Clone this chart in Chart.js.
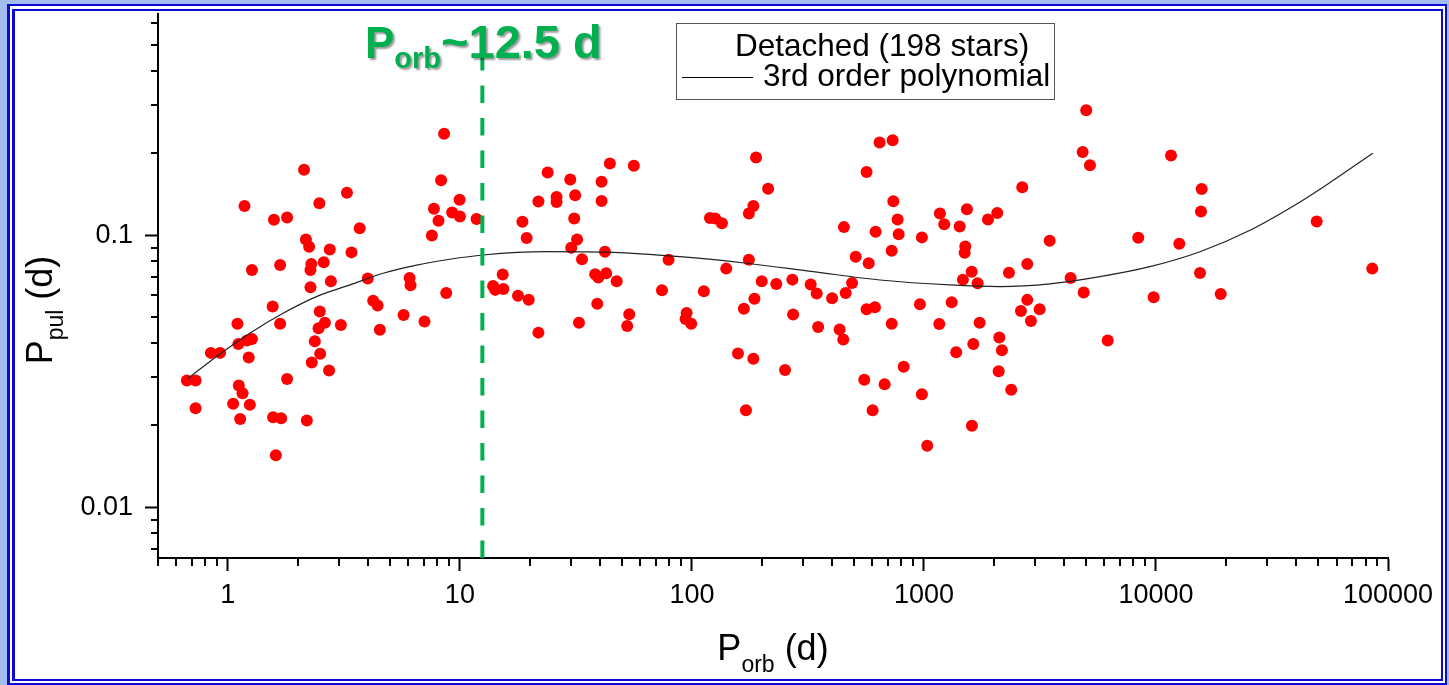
<!DOCTYPE html>
<html><head><meta charset="utf-8">
<script src="https://cdn.jsdelivr.net/npm/chart.js@4.4.1/dist/chart.umd.min.js"></script>
<style>
html,body{margin:0;padding:0;width:1449px;height:685px;overflow:hidden;background:#a4bdf0;}
#frame{position:absolute;left:7px;top:4px;width:1440px;height:681px;box-sizing:border-box;border-style:double;border-color:#0a0ad6;border-width:7px 6px 6px 8px;background:#fff;}
#c{position:absolute;left:0;top:0;}
</style></head><body>
<div id="frame"></div>
<canvas id="c" width="1449" height="685"></canvas>
<script>
// ---- data ----
const orbitalPeriod = [
 8.55,2.13,8.30,3.26,9.97,1.18,2.48,7.73,9.26,10.0,8.09,11.8,1.58,1.80,3.70,7.57,2.17,2.24,2.75,3.41,
 2.59,1.68,2.29,1.27,2.27,2.78,4.01,6.07,6.13,2.27,8.73,1.56,4.23,4.42,2.49,1.10,1.68,2.62,2.46,3.07,
 5.72,7.04,4.52,1.11,1.27,1.21,0.845,0.926,2.37,1.23,2.50,2.30,2.73,1.80,0.666,0.726,1.115,1.157,0.726,1.054,
 1.244,1.13,1.567,1.697,2.19,1.61,
 23.9,29.9,44.3,56.2,40.8,21.8,26.1,26.1,31.4,40.8,18.6,31.1,19.4,32.0,30.2,42.2,33.6,15.3,13.9,14.2,
 15.4,17.8,19.8,38.3,39.5,42.7,47.4,39.1,21.8,32.6,53.7,52.6,79.3,74.3,94.9,93.9,99.3,112.6,119.6,126,
 134.7,189,213,184,176,140.6,176,200,186,167.5,231,271,273,325,345,402,350,433,449,460,
 490,508,578,452,619,566,644,733,738,770,778,726,980,566,615,726,961,158,184,252,
 171,553,677,818,601,980,1033,
 5006,4831,5194,11610,2653,15740,15630,49280,
 1172,1223,1532,1426,1888,2070,3482,1507,1498,8388,12600,2788,2325,1606,1472,1704,4288,15480,85560,4880,
 9772,19010,1317,2788,2618,3153,2891,1164,1738,2112,2168,1632,1377,2099,2378,6194,1610
];
const pulsationPeriod = [
 0.236,0.174,0.159,0.143,0.135,0.128,0.131,0.125,0.121,0.117,0.113,0.1145,0.114,0.116,0.106,0.0997,0.0964,0.0906,0.0886,0.0864,
 0.0794,0.0776,0.0783,0.0744,0.0744,0.0677,0.0692,0.0696,0.0654,0.0643,0.0612,0.0546,0.0574,0.0551,0.0524,0.0472,0.0472,0.0476,0.0455,0.0467,
 0.0508,0.0481,0.0449,0.0398,0.0415,0.0410,0.0369,0.0369,0.0407,0.0355,0.0366,0.0340,0.0318,0.0296,0.0292,0.0292,0.0280,0.0262,0.0231,0.0240,
 0.0238,0.0211,0.0214,0.0212,0.0208,0.0155,
 0.170,0.160,0.1835,0.180,0.157,0.133,0.138,0.1324,0.140,0.1335,0.112,0.115,0.0975,0.0964,0.0898,0.0869,0.0815,0.0716,0.0650,0.0629,
 0.0634,0.0599,0.0579,0.0718,0.0698,0.0724,0.0677,0.0559,0.0438,0.0476,0.0512,0.0463,0.0812,0.0627,0.0517,0.0492,0.0472,0.0622,0.1157,0.1151,
 0.1106,0.193,0.148,0.128,0.120,0.0753,0.0812,0.0677,0.0584,0.0536,0.0661,0.0686,0.0511,0.0658,0.0610,0.0586,0.0459,0.0450,0.0413,0.0612,
 0.0667,0.0833,0.0788,0.107,0.1028,0.1706,0.219,0.2234,0.1332,0.1142,0.1008,0.0876,0.0981,0.0534,0.0543,0.0472,0.0557,0.0367,0.0351,0.0319,
 0.0227,0.0294,0.0283,0.0328,0.0227,0.0260,0.0168,
 0.288,0.202,0.1805,0.1963,0.150,0.1478,0.1221,0.1122,
 0.120,0.1097,0.1245,0.1076,0.1142,0.1207,0.0953,0.0909,0.0861,0.0977,0.0929,0.0783,0.0727,0.0734,0.0686,0.0665,0.0696,0.0726,0.0753,0.0615,
 0.0591,0.0608,0.0567,0.0578,0.0526,0.0534,0.0483,0.0471,0.0476,0.0420,0.0377,0.0398,0.0371,0.0316,0.0270,0.0410,0.0199
];
const fitOrbitalPeriod = [0.673,0.894,1.244,1.73,2.41,3.36,4.67,6.51,9.05,12.6,23.6,45.7,88.7,172,333,646,1294,2128,3493,5737,9420,15480,25420,41770,58100,85950];
const fitPulsationPeriod = [0.0297,0.0358,0.0436,0.0516,0.0594,0.0656,0.0724,0.0776,0.0815,0.0845,0.0869,0.0864,0.0833,0.0788,0.0734,0.0684,0.0656,0.0647,0.0662,0.0704,0.0766,0.0869,0.1042,0.1324,0.159,0.200];
const xTickValues = [1,10,100,1000,10000,100000];
const yTickValues = [0.01,0.1];
const minorMultipliers = [2,3,4,5,6,7,8,9];
const xDecades = [0.1,1,10,100,1000,10000];
const yDecades = [0.001,0.01,0.1];
const thresholdPorb = 12.5;
const seriesLabels = ['Detached (198 stars)','3rd order polynomial'];
const annotationMain = 'P', annotationSub = 'orb', annotationRest = '~12.5 d';

// ---- chart ----
const FONT = "'Liberation Sans', Arial, Helvetica, sans-serif";
const starPoints = orbitalPeriod.map((x,i)=>({x:x,y:pulsationPeriod[i]}));
const fitPoints = fitOrbitalPeriod.map((x,i)=>({x:x,y:fitPulsationPeriod[i]}));

const decor = {
  id:'decor',
  afterDraw(chart){
    const ctx = chart.ctx, xs = chart.scales.x, ys = chart.scales.y, a = chart.chartArea;
    ctx.save();
    // minor ticks
    ctx.strokeStyle = '#000'; ctx.lineWidth = 2;
    ctx.beginPath();
    for (const d of xDecades) for (const m of minorMultipliers) {
      const v = d*m;
      if (v >= xs.min*0.999 && v <= xs.max*1.001) { const p = Math.round(xs.getPixelForValue(v)); ctx.moveTo(p, a.bottom); ctx.lineTo(p, a.bottom+8); }
    }
    for (const d of yDecades) for (const m of minorMultipliers) {
      const v = d*m;
      if (v >= ys.min*0.999 && v <= ys.max*1.001) { const p = Math.round(ys.getPixelForValue(v)); ctx.moveTo(a.left-7, p); ctx.lineTo(a.left, p); }
    }
    ctx.stroke();

    // threshold dashed line
    const tx = xs.getPixelForValue(thresholdPorb);
    ctx.strokeStyle = '#00b050'; ctx.lineWidth = 4; ctx.setLineDash([17.5,15]);
    ctx.beginPath(); ctx.moveTo(tx, 53); ctx.lineTo(tx, a.bottom); ctx.stroke();
    ctx.setLineDash([]);

    // annotation text
    ctx.fillStyle = '#00b050';
    ctx.shadowColor = 'rgba(0,0,0,0.4)'; ctx.shadowOffsetX = 2; ctx.shadowOffsetY = 2; ctx.shadowBlur = 2;
    ctx.textBaseline = 'alphabetic'; ctx.textAlign = 'left';
    let x0 = 365;
    ctx.font = 'bold 44px ' + FONT; ctx.fillText(annotationMain, x0, 58); x0 += ctx.measureText(annotationMain).width;
    ctx.font = 'bold 29px ' + FONT; ctx.fillText(annotationSub, x0, 68); x0 += ctx.measureText(annotationSub).width;
    ctx.font = 'bold 47px ' + FONT; ctx.fillText(annotationRest, x0, 58);
    ctx.shadowColor = 'transparent'; ctx.shadowOffsetX = 0; ctx.shadowOffsetY = 0; ctx.shadowBlur = 0;

    // legend
    ctx.strokeStyle = '#555'; ctx.lineWidth = 1;
    ctx.strokeRect(676.5, 23.5, 378, 76);
    ctx.fillStyle = '#000'; ctx.font = '31.5px ' + FONT;
    ctx.fillText(chart.data.datasets[1].label, 735, 56);
    ctx.fillText(chart.data.datasets[0].label, 763, 86);
    ctx.strokeStyle = '#000'; ctx.lineWidth = 1;
    ctx.beginPath(); ctx.moveTo(682, 77.5); ctx.lineTo(753, 77.5); ctx.stroke();

    // x title
    const cx = (a.left + a.right)/2;
    ctx.font = '36px ' + FONT; const wP = ctx.measureText('P').width; const wD = ctx.measureText(' (d)').width;
    ctx.font = '23px ' + FONT; const wS = ctx.measureText('orb').width;
    let sx = cx - (wP+wS+wD)/2;
    ctx.font = '36px ' + FONT; ctx.fillText('P', sx, 660); sx += wP;
    ctx.font = '23px ' + FONT; ctx.fillText('orb', sx, 672); sx += wS;
    ctx.font = '36px ' + FONT; ctx.fillText(' (d)', sx, 660);

    // y title
    ctx.save();
    ctx.translate(52, 310); ctx.rotate(-Math.PI/2);
    ctx.font = '36px ' + FONT; const yP = ctx.measureText('P').width; const yD = ctx.measureText(' (d)').width;
    ctx.font = '23px ' + FONT; const yS = ctx.measureText('pul').width;
    let sy = -(yP+yS+yD)/2;
    ctx.font = '36px ' + FONT; ctx.fillText('P', sy, 0); sy += yP;
    ctx.font = '23px ' + FONT; ctx.fillText('pul', sy, 11); sy += yS;
    ctx.font = '36px ' + FONT; ctx.fillText(' (d)', sy, 0);
    ctx.restore();
    ctx.restore();
  }
};

new Chart(document.getElementById('c'), {
  type: 'scatter',
  data: {
    datasets: [
      { label: seriesLabels[1], data: fitPoints, showLine: true, pointRadius: 0, borderColor: '#222', borderWidth: 1.2,
        cubicInterpolationMode: 'monotone', order: 0 },
      { label: seriesLabels[0], data: starPoints, pointRadius: 6, pointHoverRadius: 6, backgroundColor: '#ff0000', borderWidth: 0, order: 1 }
    ]
  },
  options: {
    responsive: false, animation: false,
    layout: { padding: { top: 14, right: 61, left: 0, bottom: 0 } },
    plugins: { legend: { display: false }, tooltip: { enabled: false } },
    scales: {
      x: {
        type: 'logarithmic', min: 0.5, max: 100000, bounds: 'data',
        grid: { display: true, drawOnChartArea: false, drawTicks: true, tickLength: 13, tickWidth: 2, tickColor: '#000' },
        border: { display: true, color: '#000', width: 2 },
        ticks: { color: '#000', font: { family: FONT, size: 27 }, padding: 8, maxRotation: 0, autoSkip: false,
                 callback: v => String(v) },
        afterBuildTicks: s => { s.ticks = xTickValues.map(v => ({ value: v })); },
        afterFit: s => { s.height = 127; s.paddingLeft = 0; s.paddingRight = 0; }
      },
      y: {
        type: 'logarithmic', min: 0.0065, max: 0.65, bounds: 'data',
        grid: { display: true, drawOnChartArea: false, drawTicks: true, tickLength: 13, tickWidth: 2, tickColor: '#000' },
        border: { display: true, color: '#000', width: 2 },
        ticks: { color: '#000', font: { family: FONT, size: 27 }, padding: 12, autoSkip: false,
                 callback: v => String(v) },
        afterBuildTicks: s => { s.ticks = yTickValues.map(v => ({ value: v })); },
        afterFit: s => { s.width = 158; s.paddingTop = 0; s.paddingBottom = 0; }
      }
    }
  },
  plugins: [decor]
});
</script>
</body></html>
